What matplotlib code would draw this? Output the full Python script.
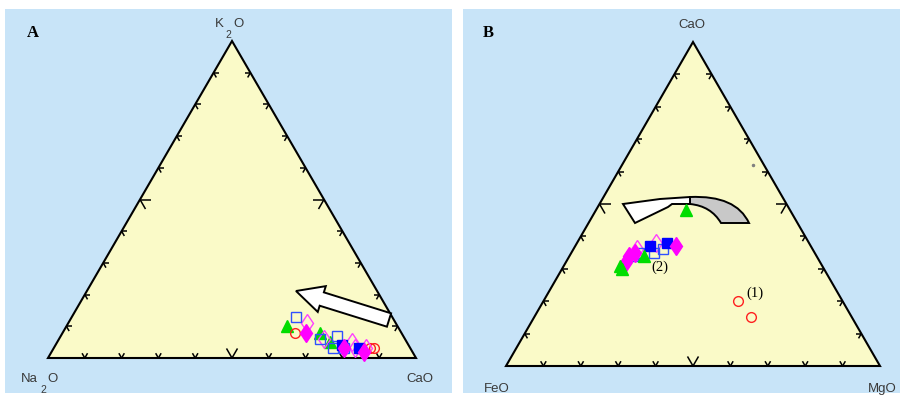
import numpy as np
import matplotlib.pyplot as plt
from matplotlib.patches import Polygon, FancyArrow, PathPatch
from matplotlib.path import Path

# Panel A: (Na2O, CaO, K2O) in %
A_green_tri = [(30, 60, 10), (22, 70, 8), (21, 74, 5)]
A_blue_open = [(26, 61, 13), (23, 71, 6), (18, 75, 7), (21, 76, 3), (18, 79, 3)]
A_blue_fill = [(18, 78, 4), (14, 83, 3)]
A_mag_fill = [(26, 66, 8), (18, 78, 3), (13, 85, 2)]
A_mag_open = [(24, 65, 11), (22, 72, 6), (15, 80, 5), (15, 82, 3), (12, 85, 3)]
A_red_circ = [(29, 63, 8), (11, 86, 3), (10, 87, 3)]

# Panel B: (FeO, MgO, CaO) in %
B_green_tri = [(54, 15, 31), (54, 16, 30), (46, 20, 34), (28, 24, 48)]
B_mag_fill = [(52, 16, 32), (50, 16, 34), (48, 17, 35), (36, 27, 37)]
B_mag_open = [(47, 17, 36), (41, 21, 38)]
B_blue_open = [(49, 17, 34), (47, 18, 35), (43, 22, 35), (40, 24, 36)]
B_blue_fill = [(43, 20, 37), (38, 24, 38)]
B_red_circ = [(28, 52, 20), (27, 58, 15)]
B_gray_dot = [(3, 35, 62)]

W, H = 906, 398
BG = '#c8e4f8'
TRI = '#fafac8'

fig = plt.figure(figsize=(W / 100, H / 100), dpi=100)


def make_ax(x0, y0, x1, y1):
    # axes in pixel coordinates (y pointing down)
    ax = fig.add_axes([x0 / W, 1 - y1 / H, (x1 - x0) / W, (y1 - y0) / H])
    ax.set_xlim(x0, x1)
    ax.set_ylim(y1, y0)
    ax.set_facecolor(BG)
    ax.set_xticks([])
    ax.set_yticks([])
    for s in ax.spines.values():
        s.set_visible(False)
    return ax


def to_xy(pts, bl, br, top):
    p = np.array(pts, dtype=float)
    p = p / p.sum(axis=1, keepdims=True)
    xs = p[:, 0] * bl[0] + p[:, 1] * br[0] + p[:, 2] * top[0]
    ys = p[:, 0] * bl[1] + p[:, 1] * br[1] + p[:, 2] * top[1]
    return xs, ys


def draw_triangle(ax, bl, br, top):
    ax.add_patch(Polygon([bl, br, top], closed=True, facecolor=TRI,
                         edgecolor='black', lw=1.5, zorder=1))
    s3 = np.sqrt(3) / 2
    edges = [
        (bl, br, [(0.5, -s3), (-0.5, -s3)]),
        (bl, top, [(1, 0), (0.5, s3)]),
        (br, top, [(-1, 0), (-0.5, s3)]),
    ]
    for p0, p1, dirs in edges:
        for i in range(1, 10):
            t = i / 10
            px = p0[0] + (p1[0] - p0[0]) * t
            py = p0[1] + (p1[1] - p0[1]) * t
            ln = 11 if i == 5 else 5.5
            for dx, dy in dirs:
                ax.plot([px, px + dx * ln], [py, py + dy * ln], color='black',
                        lw=1.1, zorder=2, solid_capstyle='butt')


def plot_series(ax, pts, corners, marker, ms, color, filled):
    xs, ys = to_xy(pts, *corners)
    ax.plot(xs, ys, linestyle='none', marker=marker, ms=ms,
            markerfacecolor=color if filled else 'none',
            markeredgecolor=color, mew=1.0, zorder=4)


lab = dict(color='#3a3a3a', fontsize=9.5, family='Liberation Sans',
           ha='center', va='center')
sub = dict(color='#3a3a3a', fontsize=7.5, family='Liberation Sans',
           ha='center', va='center')

# ---------- Panel A ----------
axA = make_ax(5, 9, 452, 393)
cA = ((48, 358), (416, 358), (232, 41))
draw_triangle(axA, *cA)
axA.add_patch(FancyArrow(389, 320, -93, -29, width=14, head_width=27,
                         head_length=27, length_includes_head=True,
                         facecolor='white', edgecolor='black', lw=1.4, zorder=3))
plot_series(axA, A_green_tri, cA, '^', 9, '#00dd00', True)
plot_series(axA, A_red_circ, cA, 'o', 7, '#ff2020', False)
plot_series(axA, A_mag_open, cA, 'd', 9.5, '#ff40ff', False)
plot_series(axA, A_blue_open, cA, 's', 7.5, '#3050ff', False)
plot_series(axA, A_blue_fill, cA, 's', 7.5, '#0000ff', True)
plot_series(axA, A_mag_fill, cA, 'd', 9.5, '#ff00ff', True)

axA.text(219, 24, 'K', **lab)
axA.text(228, 35, '2', **sub)
axA.text(238, 24, 'O', **lab)
axA.text(29, 379, 'Na', **lab)
axA.text(43, 390, '2', **sub)
axA.text(52, 379, 'O', **lab)
axA.text(420, 379, 'CaO', **lab)
axA.text(33, 33, 'A', fontsize=12, fontweight='bold', family='Liberation Serif',
         ha='center', va='center')

# ---------- Panel B ----------
axB = make_ax(463, 9, 900, 393)
cB = ((506, 366), (880, 366), (693, 42))
draw_triangle(axB, *cB)

# curved arrow: grey back part and white head
grey = Path([(690, 197), (736, 195), (749, 223), (721, 223), (711, 206),
             (690, 204), (690, 197)],
            [Path.MOVETO, Path.CURVE3, Path.CURVE3, Path.LINETO, Path.CURVE3,
             Path.CURVE3, Path.CLOSEPOLY])
axB.add_patch(PathPatch(grey, facecolor='#c8c8c8', edgecolor='black', lw=1.4, zorder=3))
axB.add_patch(Polygon([(690, 197), (660, 199), (623, 204), (635, 223),
                       (668, 207), (672, 204), (690, 204)], closed=True,
                      facecolor='white', edgecolor='black', lw=1.4, zorder=3))

plot_series(axB, B_red_circ, cB, 'o', 7, '#ff2020', False)
plot_series(axB, B_gray_dot, cB, 'o', 1.5, '#808080', True)
plot_series(axB, B_mag_open, cB, 'd', 9.5, '#ff40ff', False)
plot_series(axB, B_blue_open, cB, 's', 7.5, '#3050ff', False)
plot_series(axB, B_blue_fill, cB, 's', 7.5, '#0000ff', True)
plot_series(axB, B_mag_fill, cB, 'd', 9.5, '#ff00ff', True)
plot_series(axB, B_green_tri, cB, '^', 9, '#00dd00', True)

axB.text(692, 25, 'CaO', **lab)
axB.text(497, 389, 'FeO', **lab)
axB.text(882, 389, 'MgO', **lab)
axB.text(755, 293, '(1)', fontsize=10.5, family='Liberation Serif', ha='center', va='center')
axB.text(660, 267, '(2)', fontsize=10.5, family='Liberation Serif', ha='center', va='center')
axB.text(488, 33, 'B', fontsize=12, fontweight='bold', family='Liberation Serif',
         ha='center', va='center')

fig.savefig('out.png', dpi=100)
